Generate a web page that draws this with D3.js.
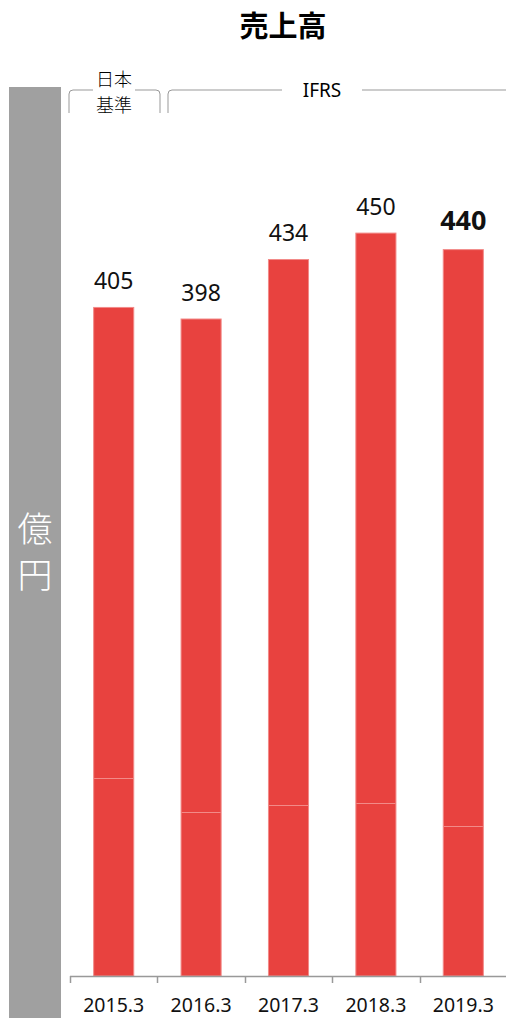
<!DOCTYPE html>
<html>
<head>
<meta charset="utf-8">
<script src="https://cdn.jsdelivr.net/npm/d3@7"></script>
<style>
  body { margin: 0; background: #fff; }
  svg { display: block; }
  text { font-family: "Noto Sans", "Noto Sans CJK JP", sans-serif; }
</style>
</head>
<body>
<svg id="chart" width="506" height="1018"></svg>
<script>
// 決算期
const periods = ['2015.3', '2016.3', '2017.3', '2018.3', '2019.3'];
// 売上高 (億円)
const totals = [405, 398, 434, 450, 440];
// 下段の区切り
const lowerPart = [120, 99, 103.5, 105, 91];

const svg = d3.select('#chart');
const red = '#e8423f';
const edge = '#f28a88';
const cjk = '"Noto Sans CJK JP", sans-serif';

// 横軸
const x = d3.scaleBand().domain(periods).range([70, 507]).paddingInner(0.53).paddingOuter(0.265);
// 縦軸
const y = d3.scaleLinear().domain([0, 450]).range([976, 232.6]);

// タイトル
svg.append('text').attr('x', 283).attr('y', 37).attr('text-anchor', 'middle')
    .style('font-family', cjk)
    .style('font-weight', 700).style('font-size', '29px').text('売上高');

// 単位の帯
svg.append('rect').attr('x', 9).attr('y', 87).attr('width', 52).attr('height', 931).attr('fill', '#a0a0a0');
['億', '円'].forEach((c, i) => {
    svg.append('text').attr('x', 35).attr('y', 542 + i * 46).attr('text-anchor', 'middle')
        .style('font-family', cjk)
        .style('font-size', '35px').style('font-weight', 300).attr('fill', '#fff').text(c);
});

// 会計基準の括弧
const br = svg.append('g').attr('fill', 'none').attr('stroke', '#999').attr('stroke-width', 1);
br.append('path').attr('d', 'M69,113 V94 Q69,90 73,90 H93');
br.append('path').attr('d', 'M135,90 H156 Q160,90 160,94 V113');
br.append('path').attr('d', 'M168,113 V94 Q168,90 172,90 H282');
br.append('path').attr('d', 'M362,90 H506');
svg.append('text').attr('x', 114).attr('y', 86).attr('text-anchor', 'middle')
    .style('font-family', cjk).style('font-size', '18px').style('font-weight', 300).text('日本');
svg.append('text').attr('x', 114).attr('y', 112).attr('text-anchor', 'middle')
    .style('font-family', cjk).style('font-size', '18px').style('font-weight', 300).text('基準');
svg.append('text').attr('x', 322).attr('y', 97).attr('text-anchor', 'middle')
    .style('font-size', '19px').text('IFRS');

// 棒
const bars = svg.append('g');
bars.selectAll('rect.bar').data(periods).join('rect').attr('class', 'bar')
    .attr('x', d => x(d) + 0.5)
    .attr('y', (d, i) => y(totals[i]) + 0.5)
    .attr('width', x.bandwidth() - 1)
    .attr('height', (d, i) => y(0) - y(totals[i]) - 0.5)
    .attr('fill', red).attr('stroke', edge).attr('stroke-width', 1);
bars.selectAll('line.split').data(periods).join('line').attr('class', 'split')
    .attr('x1', d => x(d) + 1).attr('x2', d => x(d) + x.bandwidth() - 1)
    .attr('y1', (d, i) => Math.round(y(lowerPart[i])) + 0.5)
    .attr('y2', (d, i) => Math.round(y(lowerPart[i])) + 0.5)
    .attr('stroke', edge).attr('stroke-width', 1);

// 値ラベル
const last = periods.length - 1;
svg.selectAll('text.val').data(periods).join('text').attr('class', 'val')
    .attr('x', d => x(d) + x.bandwidth() / 2)
    .attr('y', (d, i) => y(totals[i]) - (i === last ? 19 : 18))
    .attr('text-anchor', 'middle')
    .style('font-size', (d, i) => i === last ? '27px' : '23px')
    .style('font-weight', (d, i) => i === last ? 700 : 400)
    .attr('fill', '#111')
    .text((d, i) => totals[i]);

// 横軸線と目盛り
const ax = svg.append('g').attr('stroke', '#999').attr('stroke-width', 1.5);
ax.append('line').attr('x1', 70).attr('x2', 506).attr('y1', 976.5).attr('y2', 976.5);
const ticks = periods.map(d => x(d) - x.step() * x.paddingInner() / 2);
ax.selectAll('line.tick').data(ticks).join('line').attr('class', 'tick')
    .attr('x1', d => Math.round(d) + 0.5).attr('x2', d => Math.round(d) + 0.5)
    .attr('y1', 976).attr('y2', 983);

svg.selectAll('text.cat').data(periods).join('text').attr('class', 'cat')
    .attr('x', d => x(d) + x.bandwidth() / 2)
    .attr('y', 1012).attr('text-anchor', 'middle')
    .style('font-size', '19.5px').attr('fill', '#111').text(d => d);
</script>
</body>
</html>
